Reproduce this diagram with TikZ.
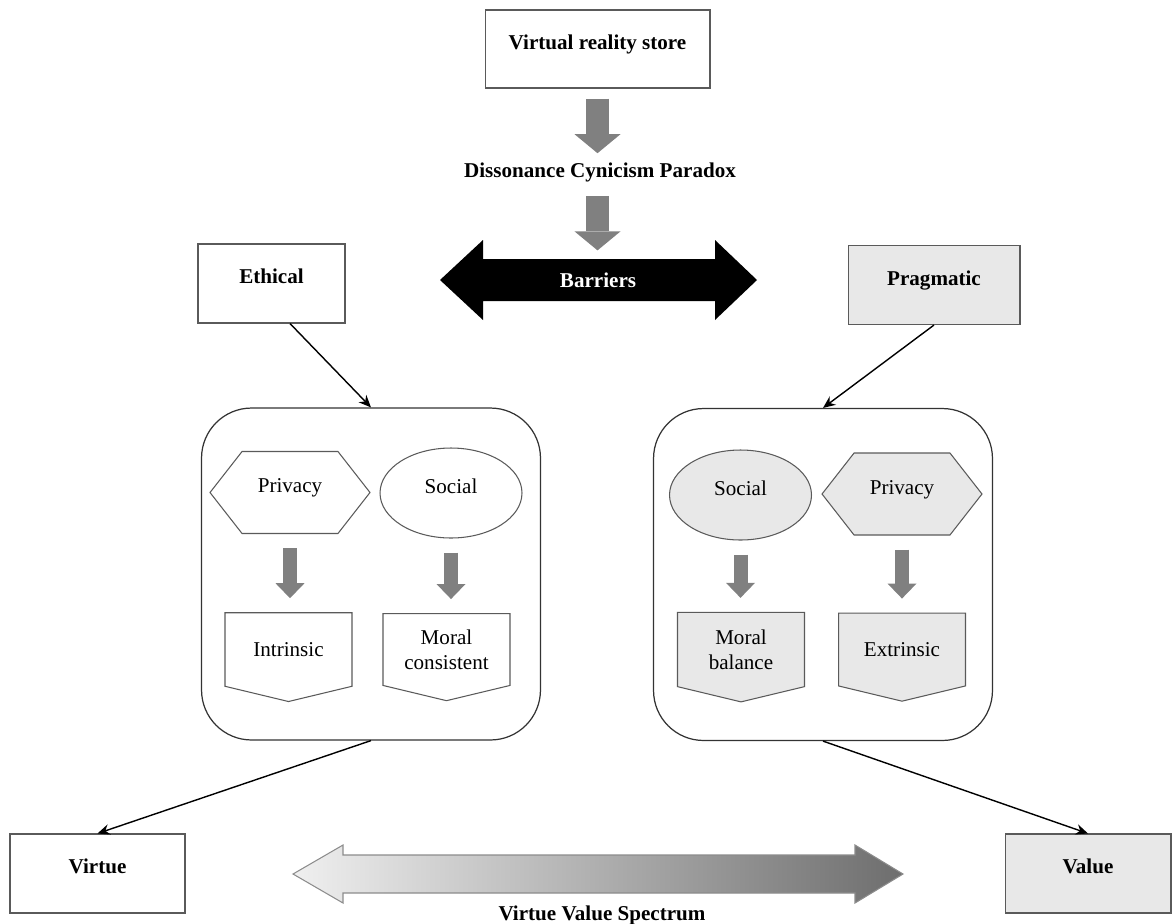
\documentclass[tikz,border=0pt]{standalone}
\usepackage{fontspec}
\setmainfont{Liberation Serif}
\usepackage{tikz}
\usetikzlibrary{calc,arrows.meta,shapes.geometric,shapes.symbols}
\definecolor{boxgray}{HTML}{E8E8E8}
\definecolor{edgegray}{HTML}{5A5A5A}
\definecolor{arrowgray}{HTML}{808080}

\begin{document}
\begin{tikzpicture}[x=0.02cm,y=-0.02cm,>={Stealth[length=7pt,width=6pt]},
			font=\fontsize{12}{14}\selectfont,
			tbox/.style={draw=edgegray,line width=0.6pt,fill=white,font=\fontsize{12}{14}\selectfont\bfseries,
				minimum height=1.58cm,text height=0.3cm,text depth=0.3cm,inner sep=0pt},
			group/.style={draw=black!80,line width=0.7pt,rounded corners=1cm,minimum width=6.78cm,minimum height=6.64cm},
			hexa/.style={signal,signal to=east and west,signal pointer angle=104,draw=edgegray,line width=0.6pt,
				minimum width=3.2cm,minimum height=1.64cm,inner sep=0pt,text height=0.25cm,text depth=0.25cm},
			oval/.style={ellipse,draw=edgegray,line width=0.6pt,minimum width=2.84cm,minimum height=1.8cm,inner sep=0pt,
				text height=0.25cm,text depth=0.25cm},
			pent/.style={signal,signal to=south,signal pointer angle=153,draw=edgegray,line width=0.6pt,
				minimum width=2.54cm,minimum height=1.64cm,align=center,inner sep=0pt},
			link/.style={->,line width=0.8pt},
			bigdown/.style={arrowgray,line width=0.46cm,-{Triangle[length=0.38cm,width=0.92cm,line width=0pt]}},
			smalldown/.style={arrowgray,line width=0.28cm,-{Triangle[length=0.3cm,width=0.58cm,line width=0pt]},
				shorten <=0.28cm,shorten >=0.28cm},
			bold/.style={font=\fontsize{12}{14}\selectfont\bfseries},
			]
			\useasboundingbox (0,0) rectangle (1172,923);
			
			% top: store, paradox, barriers
			\node[tbox,minimum width=4.5cm,minimum height=1.56cm] (vr) at (597.5,49) {Virtual reality store};
			\node[bold] (dcp) at (600,172) {Dissonance Cynicism Paradox};
			\fill (440,280) -- (483,240) -- (483,259) -- (715,259) -- (715,240) -- (757,280)
			-- (715,320) -- (715,301) -- (483,301) -- (483,320) -- cycle;
			\node[bold,text=white] (bar) at (598,280) {Barriers};
			\draw[bigdown,shorten <=0.2cm,shorten >=0.06cm] (vr.south) -- (vr.south |- dcp.north);
			\draw[bigdown,shorten <=0.16cm,shorten >=0.32cm] (vr.south |- dcp.south) -- (vr.south |- bar.north);
			
			% two sides
			\node[tbox,minimum width=2.94cm] (eth) at (271.5,283.5) {Ethical};
			\node[tbox,fill=boxgray,minimum width=3.44cm] (prag) at (934,285) {Pragmatic};
			\node[group] (lgrp) at (371,574) {};
			\node[group] (rgrp) at (823,574.5) {};
			
			% ethical group
			\node[hexa] (lpriv) at (290,492.5) {Privacy};
			\node[oval] (lsoc) at (451,493) {Social};
			\node[pent] (intr) at (288.5,649.5) {Intrinsic};
			\node[pent] (mcons) at (446.5,649.5) {Moral\\consistent};
			\draw[smalldown] (lpriv.south) -- (lpriv.south |- intr.north);
			\draw[smalldown] (lsoc.south) -- (lsoc.south |- mcons.north);
			
			% pragmatic group
			\node[oval,fill=boxgray] (rsoc) at (740.5,495) {Social};
			\node[hexa,fill=boxgray] (rpriv) at (902,494) {Privacy};
			\node[pent,fill=boxgray] (mbal) at (741,649.5) {Moral\\balance};
			\node[pent,fill=boxgray] (extr) at (902,649.5) {Extrinsic};
			\draw[smalldown] (rsoc.south) -- (rsoc.south |- mbal.north);
			\draw[smalldown] (rpriv.south) -- (rpriv.south |- extr.north);
			
			% bottom
			\node[tbox,minimum width=3.5cm] (virt) at (97.5,873.5) {Virtue};
			\node[tbox,fill=boxgray,minimum width=3.32cm] (val) at (1088,873.5) {Value};
			\shade[left color=black!6,right color=black!57,draw=black!45,line width=0.6pt]
			(293,874) -- (343,845) -- (343,855) -- (855,855) -- (855,845) -- (903,874)
			-- (855,903) -- (855,893) -- (343,893) -- (343,903) -- cycle;
			\node[bold] (spec) at (602,915) {Virtue Value Spectrum};
			
			\draw[link] ([xshift=0.37cm]eth.south) -- (lgrp.north);
			\draw[link] (prag.south) -- (rgrp.north);
			\draw[link] (lgrp.south) -- (virt.north);
			\draw[link] (rgrp.south) -- (val.north);
		\end{tikzpicture}
\end{document}
